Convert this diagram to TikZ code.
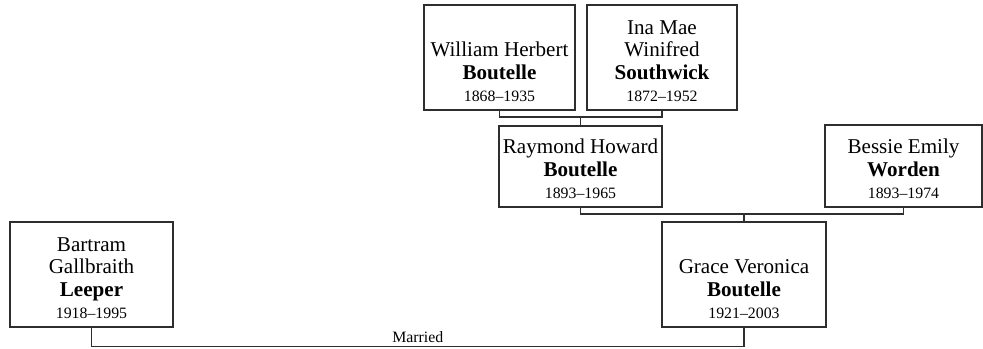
\documentclass[tikz,border=0pt]{standalone}
\usepackage{fontspec}
\setmainfont{Liberation Serif}
\usepackage{xcolor}
\usetikzlibrary{positioning,calc}
\definecolor{ink}{HTML}{2E2E2E}
\newcommand{\yrs}[1]{{\fontsize{9}{11}\selectfont #1}}
\newcommand{\card}[3]{\parbox[c][#2][b]{#1}{\centering #3\par\vspace*{4.5pt}}}
\tikzset{
  person/.style={draw=ink,fill=white,line width=0.7pt,inner sep=0pt,
                 font=\fontsize{12}{12.8}\selectfont},
  link/.style={draw=ink,line width=0.8pt},
  linklabel/.style={font=\fontsize{9}{11}\selectfont,inner sep=2pt}
}
\begin{document}
\begin{tikzpicture}[x=0.02cm,y=-0.02cm]
    \path[use as bounding box] (0,0) rectangle (983,348);

    \node[person] (william) at (499.5,57.5)
      {\card{3.02cm}{2.1cm}{William Herbert\\\textbf{Boutelle}\\\yrs{1868--1935}}};
    \node[person] (ina) at (662,57.5)
      {\card{3.0cm}{2.1cm}{Ina Mae\\Winifred\\\textbf{Southwick}\\\yrs{1872--1952}}};
    \node[person] (raymond) at (580.5,166.5)
      {\card{3.26cm}{1.62cm}{Raymond Howard\\\textbf{Boutelle}\\\yrs{1893--1965}}};
    \node[person] (bessie) at (903.5,166)
      {\card{3.14cm}{1.64cm}{Bessie Emily\\\textbf{Worden}\\\yrs{1893--1974}}};
    \node[person] (bartram) at (91.5,274.5)
      {\card{3.26cm}{2.1cm}{Bartram\\Gallbraith\\\textbf{Leeper}\\\yrs{1918--1995}}};
    \node[person] (grace) at (744,274.5)
      {\card{3.28cm}{2.1cm}{Grace Veronica\\\textbf{Boutelle}\\\yrs{1921--2003}}};

    \coordinate (top bar) at (580.5,117);
    \draw[link] (william.south) |- (top bar) -| (ina.south);
    \draw[link] (top bar) -- (raymond.north);

    \coordinate (mid bar) at (744,214);
    \draw[link] (raymond.south) |- (mid bar) -| (bessie.south);
    \draw[link] (mid bar) -- (grace.north);

    \coordinate (wed) at (417.75,346.5);
    \draw[link] (bartram.south) |- (wed) -| (grace.south);
    \node[linklabel,above] (married) at (wed) {Married};
  \end{tikzpicture}
\end{document}
